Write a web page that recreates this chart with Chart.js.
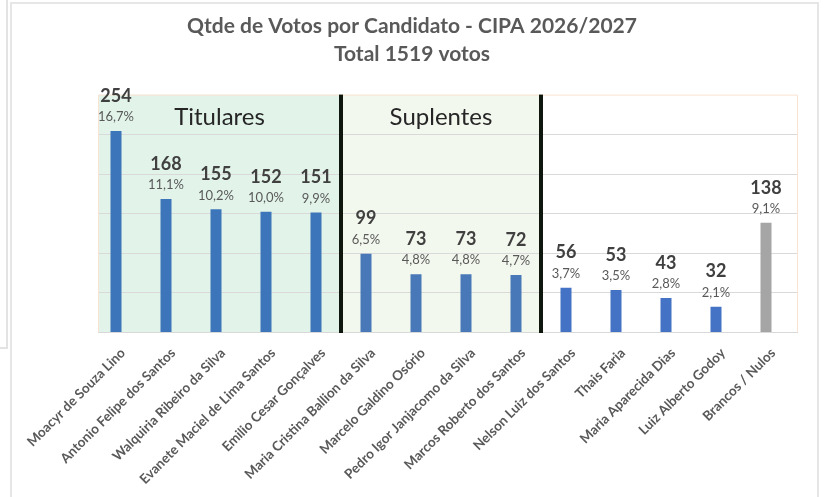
<!DOCTYPE html>
<html>
<head>
<meta charset="utf-8">
<script src="https://cdn.jsdelivr.net/npm/chart.js@4"></script>
<style>
  html, body { margin: 0; padding: 0; background: #fff; }
  body { width: 824px; height: 497px; position: relative; overflow: hidden; }
  #painel { position: absolute; left: -2px; top: -2px; width: 6px; height: 347px; border: 2px solid #e3e3e3; }
  #moldura { position: absolute; left: 10px; top: 2px; width: 805px; height: 500px; border: 2px solid #e6e6e6; }
  #wrap { position: absolute; left: 0; top: 0; width: 824px; height: 497px; }
</style>
</head>
<body>
<div id="painel"></div>
<div id="moldura"></div>
<div id="wrap"><canvas id="grafico"></canvas></div>
<script>
const candidatos = [
    "Moacyr de Souza Lino", "Antonio Felipe dos Santos", "Walquiria Ribeiro da Silva",
    "Evanete Maciel de Lima Santos", "Emilio Cesar Gonçalves", "Maria Cristina Ballion da Silva",
    "Marcelo Galdino Osório", "Pedro Igor Janjacomo da Silva", "Marcos Roberto dos Santos",
    "Nelson Luiz dos Santos", "Thais Faria", "Maria Aparecida Dias",
    "Luiz Alberto Godoy", "Brancos / Nulos"
];
const votos = [254, 168, 155, 152, 151, 99, 73, 73, 72, 56, 53, 43, 32, 138];
const percentuais = [
    "16,7%", "11,1%", "10,2%", "10,0%", "9,9%", "6,5%", "4,8%",
    "4,8%", "4,7%", "3,7%", "3,5%", "2,8%", "2,1%", "9,1%"
];
const grupoNomes = ["Titulares", "Suplentes"];
const grupoInicio = [0, 5];
const grupoFim = [4, 8];

const corBarra = (i) => {
    if (i === votos.length - 1) return "#a5a5a5";
    if (i <= grupoFim[0]) return "#3c75b9";
    if (i <= grupoFim[1]) return "#4878b8";
    return "#4472c4";
};

// fundo: faixas dos grupos, grade e borda da area do grafico
const fundoPlugin = {
    id: "fundo",
    beforeDatasetsDraw(chart) {
        const { ctx, chartArea: a, scales: { x, y } } = chart;
        const desloc = 7;
        const esq = a.left + desloc, dir = a.right + desloc;
        const meio = (i) => (x.getPixelForValue(i) + x.getPixelForValue(i + 1)) / 2;
        const coresFaixa = ["#e2f4ea", "#f3f8ee"];
        ctx.save();
        grupoNomes.forEach((nome, g) => {
            const x0 = g === 0 ? esq : meio(grupoInicio[g] - 1);
            const x1 = meio(grupoFim[g]);
            ctx.fillStyle = coresFaixa[g];
            ctx.fillRect(x0, a.top, x1 - x0, a.bottom - a.top);
        });
        ctx.strokeStyle = "#d9d9d9";
        ctx.lineWidth = 1;
        y.ticks.forEach((t) => {
            if (t.value === 0 || t.value === y.max) return;
            const py = Math.round(y.getPixelForValue(t.value)) + 0.5;
            ctx.beginPath();
            ctx.moveTo(esq, py);
            ctx.lineTo(dir, py);
            ctx.stroke();
        });
        ctx.strokeStyle = "#fbe3d2";
        ctx.beginPath();
        ctx.moveTo(esq + 0.5, a.bottom);
        ctx.lineTo(esq + 0.5, a.top + 0.5);
        ctx.lineTo(dir - 0.5, a.top + 0.5);
        ctx.lineTo(dir - 0.5, a.bottom);
        ctx.stroke();
        ctx.strokeStyle = "#d9d9d9";
        ctx.beginPath();
        ctx.moveTo(esq, a.bottom + 0.5);
        ctx.lineTo(dir, a.bottom + 0.5);
        ctx.stroke();
        ctx.restore();
    },
    afterDatasetsDraw(chart) {
        const { ctx, chartArea: a, scales: { x } } = chart;
        const meio = (i) => (x.getPixelForValue(i) + x.getPixelForValue(i + 1)) / 2;
        const desloc = 7;
        ctx.save();
        // separadores pretos
        ctx.strokeStyle = "#0e160e";
        ctx.lineWidth = 4;
        grupoFim.forEach((f) => {
            const px = meio(f);
            ctx.beginPath();
            ctx.moveTo(px, a.top);
            ctx.lineTo(px, a.bottom + 1);
            ctx.stroke();
        });
        // nomes dos grupos
        ctx.fillStyle = "#262626";
        ctx.font = "24px Lato";
        ctx.textAlign = "center";
        ctx.textBaseline = "middle";
        grupoNomes.forEach((nome, g) => {
            const x0 = g === 0 ? a.left + desloc : meio(grupoInicio[g] - 1);
            const x1 = meio(grupoFim[g]);
            ctx.fillText(nome, (x0 + x1) / 2, a.top + 23);
        });
        // rotulos das barras
        const meta = chart.getDatasetMeta(0);
        meta.data.forEach((bar, i) => {
            ctx.fillStyle = "#404040";
            ctx.font = "bold 18px Lato";
            ctx.fillText(String(votos[i]), bar.x, bar.y - 35);
            ctx.fillStyle = "#595959";
            ctx.font = "13px Lato";
            ctx.fillText(percentuais[i], bar.x, bar.y - 14);
        });
        ctx.restore();
    }
};

const eixoVazio = (largura, lado) => ({
    position: lado,
    display: true,
    grid: { display: false },
    border: { display: false },
    ticks: { display: false },
    afterFit(scale) { scale.width = largura; },
});

const ctx = document.getElementById("grafico").getContext("2d");
const grafico = new Chart(ctx, {
    type: "bar",
    data: {
        labels: candidatos,
        datasets: [
            {
                label: "Votos",
                data: votos,
                backgroundColor: votos.map((v, i) => corBarra(i)),
                barPercentage: 0.22,
                categoryPercentage: 1,
            },
        ],
    },
    options: {
        responsive: true,
        maintainAspectRatio: false,
        animation: false,
        layout: {
            padding: 0,
        },
        plugins: {
            legend: { display: false },
            tooltip: { enabled: false },
            title: {
                display: true,
                text: ["Qtde de Votos por Candidato - CIPA 2026/2027", "Total 1519 votos"],
                color: "#595959",
                font: { family: "Lato", size: 21, weight: "bold", lineHeight: 1.3 },
                padding: { top: 13, bottom: 27 },
            },
        },
        scales: {
            x: {
                grid: { display: false },
                border: { display: false },
                ticks: {
                    color: "#595959",
                    font: { family: "Lato", size: 13.5, weight: "bold" },
                    minRotation: 45,
                    maxRotation: 45,
                    autoSkip: false,
                    padding: 5,
                    labelOffset: 7,
                },
                afterFit(scale) { scale.height = 165; },
            },
            y: {
                ...eixoVazio(91, "left"),
                min: 0,
                max: 300,
                ticks: { display: false, stepSize: 50 },
            },
            yDir: {
                ...eixoVazio(33, "right"),
                min: 0,
                max: 300,
            },
        },
    },
    plugins: [fundoPlugin],
});
</script>
</body>
</html>
